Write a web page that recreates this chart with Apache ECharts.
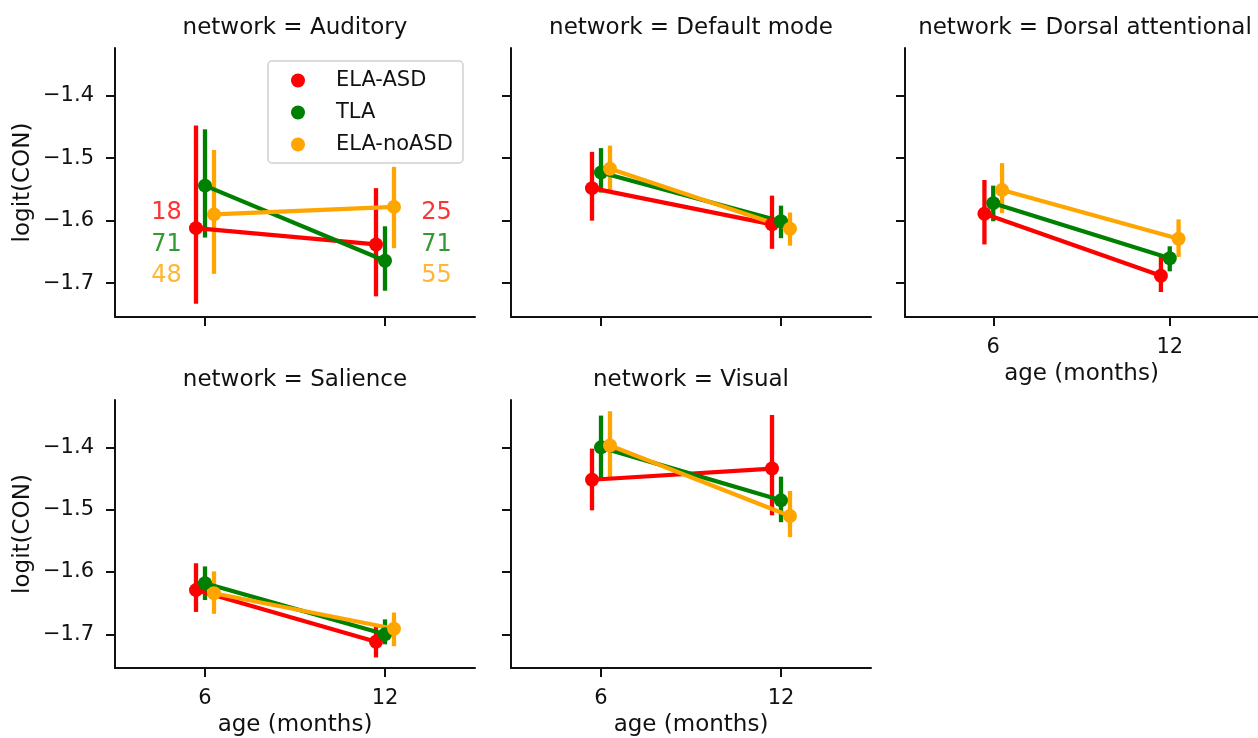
<!DOCTYPE html>
<html>
<head>
<meta charset="utf-8">
<script src="https://cdn.jsdelivr.net/npm/echarts@6/dist/echarts.min.js"></script>
<style>
html,body{margin:0;padding:0;background:#fff;}
#chart{width:1258px;height:738px;}
</style>
</head>
<body>
<div id="chart"></div>
<script>
// ---------------- data ----------------
const networks = ['Auditory', 'Default mode', 'Dorsal attentional', 'Salience', 'Visual'];
const ages = [6, 12];
const groups = ['ELA-ASD', 'TLA', 'ELA-noASD'];
const yTicks = [-1.7, -1.6, -1.5, -1.4];

// means [6 mo, 12 mo] per network
const meanASD   = [[-1.612, -1.638], [-1.548, -1.606], [-1.589, -1.688], [-1.629, -1.712], [-1.452, -1.434]];
const meanTLA   = [[-1.544, -1.664], [-1.523, -1.601], [-1.572, -1.660], [-1.618, -1.700], [-1.400, -1.485]];
const meanNoASD = [[-1.590, -1.578], [-1.517, -1.613], [-1.551, -1.629], [-1.634, -1.691], [-1.397, -1.510]];

// confidence interval lower / upper bounds
const loASD   = [[-1.733, -1.721], [-1.600, -1.645], [-1.638, -1.714], [-1.664, -1.737], [-1.501, -1.509]];
const hiASD   = [[-1.448, -1.548], [-1.490, -1.560], [-1.535, -1.655], [-1.586, -1.684], [-1.402, -1.348]];
const loTLA   = [[-1.627, -1.712], [-1.555, -1.628], [-1.601, -1.681], [-1.645, -1.716], [-1.450, -1.520]];
const hiTLA   = [[-1.454, -1.609], [-1.484, -1.576], [-1.544, -1.641], [-1.591, -1.676], [-1.349, -1.447]];
const loNoASD = [[-1.685, -1.644], [-1.555, -1.640], [-1.588, -1.658], [-1.667, -1.719], [-1.448, -1.544]];
const hiNoASD = [[-1.487, -1.514], [-1.480, -1.587], [-1.508, -1.598], [-1.599, -1.665], [-1.342, -1.470]];

// sample sizes [6 mo, 12 mo]
const nASD = [18, 25];
const nTLA = [71, 71];
const nNoASD = [48, 55];

// ---------------- style / layout ----------------
const colors = ['#ff0000', '#008000', '#ffa500'];
const means = [meanASD, meanTLA, meanNoASD];
const los = [loASD, loTLA, loNoASD];
const his = [hiASD, hiTLA, hiNoASD];
const counts = [nASD, nTLA, nNoASD];
const dodge = [-0.3, 0, 0.3];         // months offset (seaborn dodge)
const annX = [4.72, 13.72];           // annotation x (months)
const annY = [-1.588, -1.639, -1.688];// annotation y per group

const ink = '#111111';
const font = 'DejaVu Sans';
const panels = [
  {left: 115, top: 48, xl: false, yl: true},
  {left: 511, top: 48, xl: false, yl: false},
  {left: 905, top: 48, xl: true,  yl: false},
  {left: 115, top: 400, xl: true, yl: true},
  {left: 511, top: 400, xl: true, yl: false}
];
const W = 360, H = 269;

const grid = [], xAxis = [], yAxis = [], title = [], series = [];
panels.forEach((p, i) => {
  grid.push({left: p.left, top: p.top, width: W, height: H, containLabel: false});
  title.push({
    text: 'network = ' + networks[i],
    left: p.left + W / 2, top: p.top - 31, textAlign: 'center', padding: 0,
    textStyle: {fontFamily: font, fontSize: 23, fontWeight: 'normal', color: ink}
  });
  xAxis.push({
    type: 'value', gridIndex: i, min: 3, max: 15,
    name: p.xl ? 'age (months)' : '', nameLocation: 'middle', nameGap: 46,
    nameTextStyle: {fontFamily: font, fontSize: 23, color: ink},
    axisLine: {show: true, onZero: false, lineStyle: {color: ink, width: 2}},
    axisTick: {show: true, customValues: ages, length: 9, lineStyle: {color: ink, width: 2}},
    axisLabel: {show: p.xl, customValues: ages, margin: 20, fontFamily: font, fontSize: 21, color: ink},
    splitLine: {show: false}
  });
  yAxis.push({
    type: 'value', gridIndex: i, min: -1.754, max: -1.324,
    name: p.yl ? 'logit(CON)' : '', nameLocation: 'middle', nameGap: 80, nameRotate: 90,
    nameTextStyle: {fontFamily: font, fontSize: 23, color: ink},
    axisLine: {show: true, onZero: false, lineStyle: {color: ink, width: 2}},
    axisTick: {show: true, customValues: yTicks, length: 9, lineStyle: {color: ink, width: 2}},
    axisLabel: {show: p.yl, customValues: yTicks, margin: 21, fontFamily: font, fontSize: 21, color: ink,
      formatter: v => v.toFixed(1).replace('-', '\u2212')},
    splitLine: {show: false}
  });
});

groups.forEach((g, gi) => {
  networks.forEach((n, pi) => {
    const errData = ages.map((a, k) => [a + dodge[gi], los[gi][pi][k], his[gi][pi][k]]);
    series.push({
      type: 'custom', name: g, xAxisIndex: pi, yAxisIndex: pi, data: errData,
      encode: {x: 0, y: [1, 2]}, silent: true,
      renderItem: (params, api) => {
        const p1 = api.coord([api.value(0), api.value(1)]);
        const p2 = api.coord([api.value(0), api.value(2)]);
        return {type: 'line', shape: {x1: p1[0], y1: p1[1], x2: p2[0], y2: p2[1]},
                style: {stroke: colors[gi], lineWidth: 4.3}};
      }
    });
    series.push({
      type: 'line', name: g, xAxisIndex: pi, yAxisIndex: pi,
      data: ages.map((a, k) => [a + dodge[gi], means[gi][pi][k]]),
      symbol: 'circle', symbolSize: 14, showSymbol: true,
      lineStyle: {color: colors[gi], width: 4.2},
      itemStyle: {color: colors[gi]},
      emphasis: {disabled: true}
    });
  });
  // sample-size annotations in the Auditory panel
  series.push({
    type: 'scatter', name: 'n-' + g, xAxisIndex: 0, yAxisIndex: 0,
    data: ages.map((a, k) => [annX[k], annY[gi], counts[gi][k]]),
    symbolSize: 0, silent: true,
    label: {show: true, position: 'inside', formatter: p => String(p.value[2]),
            fontFamily: font, fontSize: 24, color: colors[gi]}
  });
});

const chart = echarts.init(document.getElementById('chart'), null, {renderer: 'canvas'});
chart.setOption({
  animation: false,
  backgroundColor: '#fff',
  title, grid, xAxis, yAxis, series,
  legend: {
    data: groups.map((g, gi) => ({name: g, icon: 'circle', itemStyle: {color: colors[gi]}})),
    orient: 'vertical', left: 268, top: 61,
    itemWidth: 14, itemHeight: 14, itemGap: 11,
    padding: [9, 10, 8, 23],
    backgroundColor: 'rgba(255,255,255,0.8)', borderColor: '#d0d0d0', borderWidth: 1.5, borderRadius: 4,
    textStyle: {fontFamily: font, fontSize: 21, color: ink, padding: [0, 0, 0, 26]},
    selectedMode: false
  }
});
</script>
</body>
</html>
